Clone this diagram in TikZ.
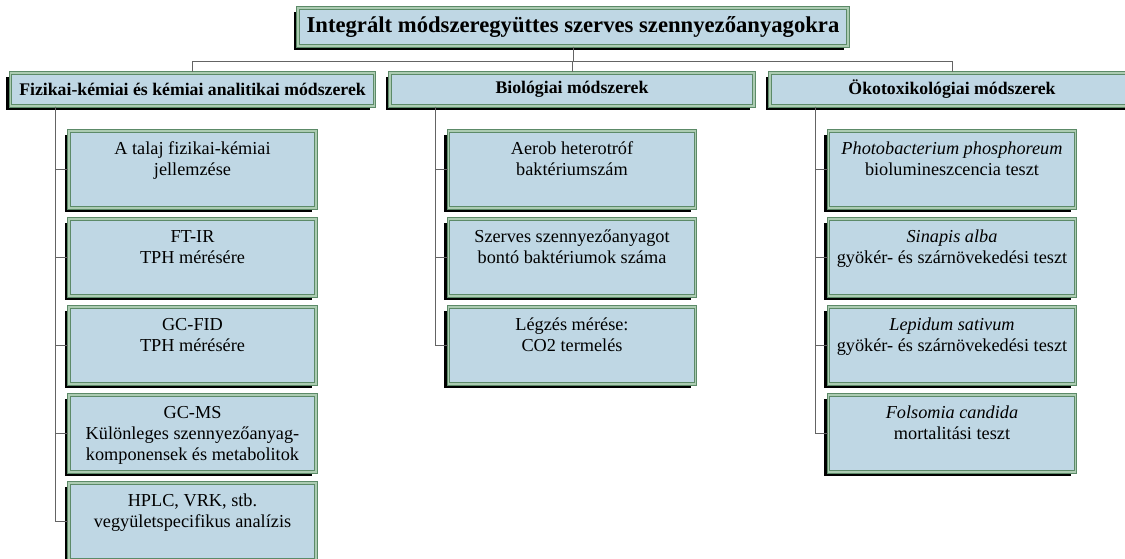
\documentclass[tikz,border=0pt]{standalone}
\usepackage{fontspec}
\setmainfont{Liberation Serif}
\usetikzlibrary{positioning,shadows}

\definecolor{boxfill}{RGB}{191,215,228}
\definecolor{boxgreen}{RGB}{92,138,104}
\definecolor{boxpale}{RGB}{172,204,178}
\definecolor{linegray}{RGB}{100,100,100}

% text of a method box, set from the top
\newcommand{\celltext}[1]{\parbox[c][57.75pt][t]{183pt}{\centering\rule{0pt}{17.25pt}#1}}

\tikzset{
  methodbox/.style={draw=boxgreen, double=boxpale, double distance=0.9pt, line width=0.8pt,
    fill=boxfill, inner sep=0pt,
    general shadow={fill=black, shadow xshift=-3.2pt, shadow yshift=-3.2pt}},
  titlebox/.style={methodbox, minimum width=412.5pt, minimum height=28.5pt,
    font=\fontsize{17}{19}\selectfont\bfseries},
  headbox/.style={methodbox, minimum width=273pt, minimum height=24.75pt,
    font=\fontsize{13.3}{15}\selectfont\bfseries},
  itembox/.style={methodbox, minimum width=185.25pt, minimum height=57.75pt,
    font=\fontsize{13.7}{15.75}\selectfont},
  link/.style={draw=linegray, line width=0.75pt}
}

\begin{document}
\begin{tikzpicture}[x=0.75pt, y=-0.75pt]
    \useasboundingbox (0,0) rectangle (1125,558);
    \clip (0,0) rectangle (1125,558);

    \node[titlebox] (main) at (573,27) {Integrált módszeregyüttes szerves szennyezőanyagokra};

    \node[headbox] (phys) at (192.5,89.5) {Fizikai-kémiai és kémiai analitikai módszerek};
    \node[headbox] (bio) at (572,89.5) {Biológiai módszerek};
    \node[headbox] (eco) at (952,89.5) {Ökotoxikológiai módszerek};

    \foreach \i/\txt in {1/{A talaj fizikai-kémiai\\jellemzése},
                         2/{FT-IR\\TPH mérésére},
                         3/{GC-FID\\TPH mérésére},
                         4/{GC-MS\\Különleges szennyezőanyag-\\komponensek és metabolitok},
                         5/{HPLC, VRK, stb.\\vegyületspecifikus analízis}}{
        \node[itembox] (phys\i) at (192.5,81.5+88*\i) {\celltext{\txt}};
        \draw[link] ([xshift=-102.4pt]phys.south) |- (phys\i.west);
    }

    \foreach \i/\txt in {1/{Aerob heterotróf\\baktériumszám},
                         2/{Szerves szennyezőanyagot\\bontó baktériumok száma},
                         3/{Légzés mérése:\\CO2 termelés}}{
        \node[itembox] (bio\i) at (572,81.5+88*\i) {\celltext{\txt}};
        \draw[link] ([xshift=-102.4pt]bio.south) |- (bio\i.west);
    }

    \foreach \i/\txt in {1/{\textit{Photobacterium phosphoreum}\\biolumineszcencia teszt},
                         2/{\textit{Sinapis alba}\\gyökér- és szárnövekedési teszt},
                         3/{\textit{Lepidum sativum}\\gyökér- és szárnövekedési teszt},
                         4/{\textit{Folsomia candida}\\mortalitási teszt}}{
        \node[itembox] (eco\i) at (952,81.5+88*\i) {\celltext{\txt}};
        \draw[link] ([xshift=-102.4pt]eco.south) |- (eco\i.west);
    }

    % tree from the title to the three groups
    \draw[link] (main.south) -- ++(0,15) -| (phys.north);
    \draw[link] (main.south) -- ++(0,15) -| (bio.north);
    \draw[link] (main.south) -- ++(0,15) -| (eco.north);
\end{tikzpicture}
\end{document}
